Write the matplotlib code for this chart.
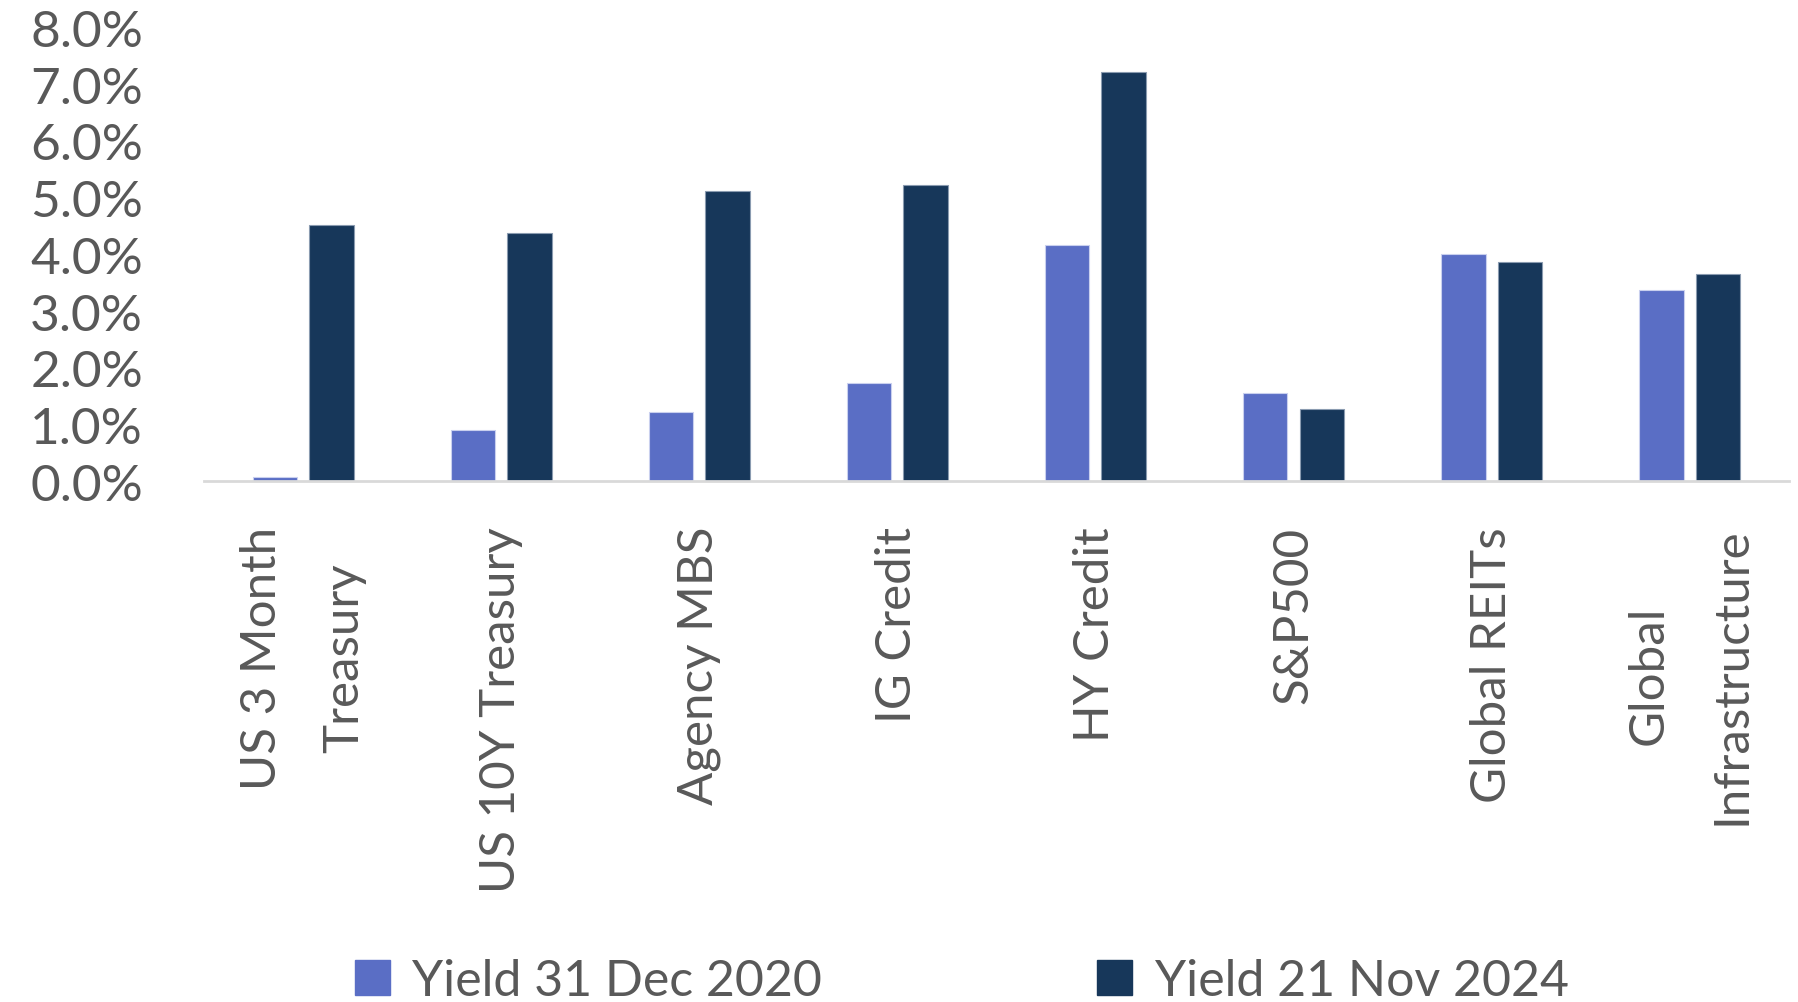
import matplotlib
matplotlib.use('Agg')
import matplotlib.pyplot as plt
import matplotlib.patches as mpatches
import numpy as np
from matplotlib.ticker import PercentFormatter

TEXT = '#595959'
C2020 = '#5A6EC5'
C2024 = '#17375A'

# ── data ──────────────────────────────────────────────────────────────────────
categories = [
    "US 3 Month\nTreasury",
    "US 10Y Treasury",
    "Agency MBS",
    "IG Credit",
    "HY Credit",
    "S&P500",
    "Global REITs",
    "Global\nInfrastructure",
]
yield_2020 = [0.08, 0.90, 1.23, 1.73, 4.17, 1.56, 4.01, 3.37]
yield_2024 = [4.52, 4.38, 5.12, 5.23, 7.22, 1.27, 3.87, 3.66]
series_labels = ["Yield 31 Dec 2020", "Yield 21 Nov 2024"]
y_ticks = [0, 1, 2, 3, 4, 5, 6, 7, 8]

plt.rcParams['font.family'] = ['Lato', 'DejaVu Sans']

fig = plt.figure(figsize=(17.98, 10.03), dpi=100)
ax = fig.add_axes([0.1135, 0.519, 0.8813, 0.4527])

x = np.arange(len(categories))
bw = 0.225
off = 0.143
ax.bar(x - off, yield_2020, bw, color=C2020, edgecolor='#c9d0ee',
       linewidth=0.8, label=series_labels[0], zorder=2)
ax.bar(x + off, yield_2024, bw, color=C2024, edgecolor='#8a9bb0',
       linewidth=0.8, label=series_labels[1], zorder=2)

ax.set_xlim(-0.5, len(categories) - 0.5)
ax.set_ylim(0, 8)
ax.set_yticks(y_ticks)
ax.yaxis.set_major_formatter(PercentFormatter(decimals=1))

for s in ['top', 'right', 'left']:
    ax.spines[s].set_visible(False)
ax.spines['bottom'].set_color('#D9D9D9')
ax.spines['bottom'].set_linewidth(2)

ax.tick_params(axis='y', length=0, pad=44, labelsize=37, labelcolor=TEXT)
ax.tick_params(axis='x', length=0, pad=32, labelsize=35.5, labelcolor=TEXT)

ax.set_xticks(x)
ax.set_xticklabels(categories, rotation=90, va='top', ha='center',
                   multialignment='center', linespacing=2.08)

# ── legend ────────────────────────────────────────────────────────────────────
handles = [mpatches.Patch(color=C2020), mpatches.Patch(color=C2024)]
leg = fig.legend(handles, series_labels, loc='center',
                 bbox_to_anchor=(0.535, 0.021), ncol=2, frameon=False,
                 fontsize=36, handlelength=0.7, handleheight=0.7,
                 handletextpad=0.45, columnspacing=5.5, borderpad=0.1)
for t in leg.get_texts():
    t.set_color(TEXT)

fig.savefig('out.png', dpi=100, facecolor='white')
plt.close(fig)
